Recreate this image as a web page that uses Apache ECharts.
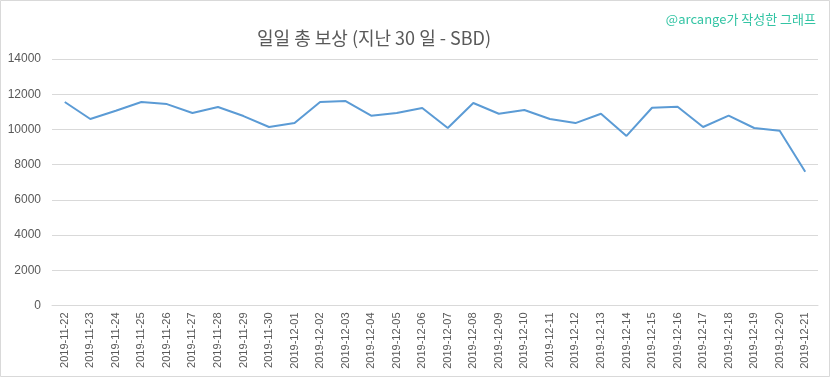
<!DOCTYPE html>
<html><head><meta charset="utf-8">
<script src="https://cdn.jsdelivr.net/npm/echarts@6/dist/echarts.min.js"></script>
<style>html,body{margin:0;padding:0;background:#fff}#c{width:833px;height:379px}</style>
</head><body><div id="c"></div>
<script>
const titleText = '일일 총 보상 (지난 30 일 - SBD)';
const watermark = '@arcange가 작성한 그래프';
const categories = ['2019-11-22','2019-11-23','2019-11-24','2019-11-25','2019-11-26','2019-11-27','2019-11-28','2019-11-29','2019-11-30','2019-12-01','2019-12-02','2019-12-03','2019-12-04','2019-12-05','2019-12-06','2019-12-07','2019-12-08','2019-12-09','2019-12-10','2019-12-11','2019-12-12','2019-12-13','2019-12-14','2019-12-15','2019-12-16','2019-12-17','2019-12-18','2019-12-19','2019-12-20','2019-12-21'];
const values = [11560,10590,11060,11560,11440,10930,11270,10760,10140,10360,11560,11610,10780,10930,11220,10080,11500,10890,11100,10590,10360,10890,9630,11230,11290,10140,10780,10080,9930,7600];
const yTicks = {min:0, max:14000, interval:2000};

const chart = echarts.init(document.getElementById('c'), null, {renderer:'canvas'});
chart.setOption({
  animation:false,
  backgroundColor:'#fff',
  title:[
    {text:titleText, left:369, top:24, textAlign:'center',
     textStyle:{fontFamily:'Noto Sans CJK KR', fontSize:18, fontWeight:'normal', color:'#595959'}},
    {text:watermark, right:12, top:8,
     textStyle:{fontFamily:'Noto Sans CJK KR', fontSize:13, fontWeight:'normal', color:'#33c4a4'}}
  ],
  graphic:[{type:'rect', shape:{x:0.5,y:0.5,width:829,height:376}, style:{fill:null, stroke:'#d9d9d9', lineWidth:1}, silent:true}],
  grid:{left:52, right:15, top:59, bottom:73.5, containLabel:false},
  xAxis:{type:'category', data:categories, boundaryGap:true,
    axisLine:{lineStyle:{color:'#d9d9d9'}}, axisTick:{show:false},
    axisLabel:{rotate:90, interval:0, color:'#595959', fontSize:11, fontFamily:'Liberation Sans', margin:7}},
  yAxis:{type:'value', min:yTicks.min, max:yTicks.max, interval:yTicks.interval,
    axisLine:{show:false}, axisTick:{show:false},
    splitLine:{lineStyle:{color:'#d9d9d9', width:1}},
    axisLabel:{color:'#595959', fontSize:12, fontFamily:'Liberation Sans', margin:11, formatter:function(v){return String(v);}}},
  series:[{type:'line', data:values, showSymbol:false, symbol:'none',
    lineStyle:{color:'#5b9bd5', width:2}, itemStyle:{color:'#5b9bd5'}}]
});
</script></body></html>
